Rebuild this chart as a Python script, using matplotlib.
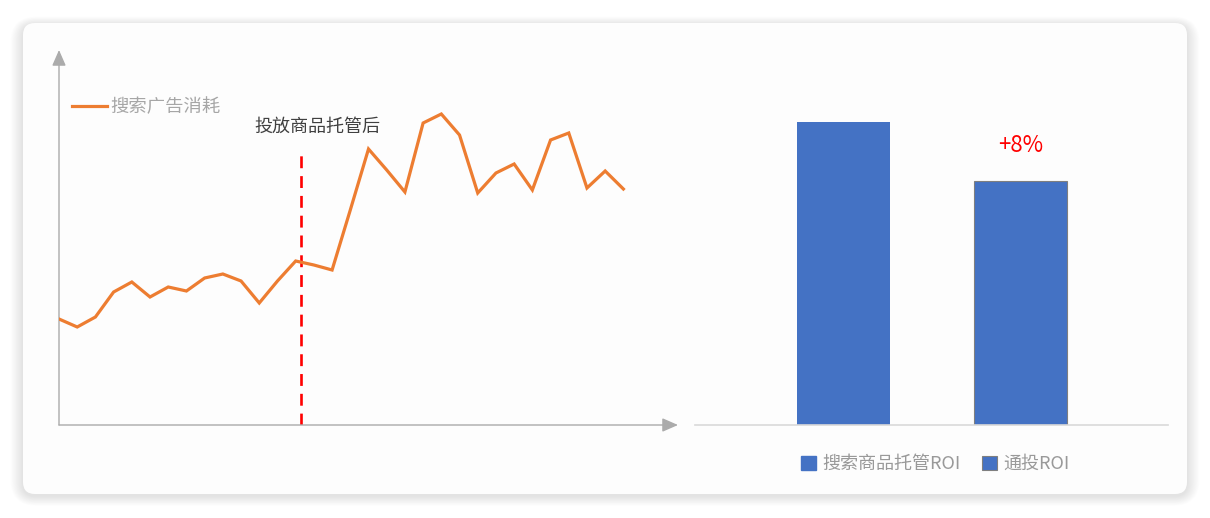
import matplotlib

matplotlib.use("Agg")
import matplotlib.pyplot as plt
import matplotlib.patches as mpatches
import matplotlib.lines as mlines
import numpy as np

plt.rcParams["font.family"] = ["Noto Sans CJK SC", "DejaVu Sans"]

# ---------------------------------------------------------------------------
# Data (y-axis has no scale, units are arbitrary)
# ---------------------------------------------------------------------------
spend = [106, 98, 108, 133, 143, 128, 138, 134, 147, 151, 144, 122, 144, 164,
         160, 155, 215, 276, 255, 233, 302, 311, 290, 232, 252, 261, 235, 285,
         292, 237, 254, 236]
spend_label = "搜索广告消耗"
launch_idx = 13.3
launch_label = "投放商品托管后"

roi_names = ["搜索商品托管ROI", "通投ROI"]
roi_values = [303, 244]
roi_note = "+8%"

ORANGE = "#ED7D31"
BLUE = "#4472C4"
AXIS_GRAY = "#ababab"

W, H = 1210, 518
fig = plt.figure(figsize=(W / 100, H / 100), dpi=100)
fig.patch.set_facecolor("white")


def px_rect(x0, y0, x1, y1):
    # pixel box (top-left origin) -> figure fraction [l, b, w, h]
    return [x0 / W, (H - y1) / H, (x1 - x0) / W, (y1 - y0) / H]


# ---------------------------------------------------------------------------
# Card background with soft shadow
# ---------------------------------------------------------------------------
bg = fig.add_axes([0, 0, 1, 1], zorder=-10)
bg.set_xlim(0, W)
bg.set_ylim(H, 0)
bg.axis("off")
for k in range(14, 0, -1):
    bg.add_patch(
        mpatches.FancyBboxPatch(
            (23 - k * 0.9, 23 - k * 0.6 + 2), 1164 + k * 1.8, 471 + k * 1.3,
            boxstyle=f"round,pad=0,rounding_size={12 + k}",
            fc="#000000", ec="none", alpha=0.006,
        )
    )
bg.add_patch(
    mpatches.FancyBboxPatch(
        (23, 23), 1164, 471, boxstyle="round,pad=0,rounding_size=12",
        fc="#fdfdfd", ec="none",
    )
)

# ---------------------------------------------------------------------------
# Left: spend line
# ---------------------------------------------------------------------------
ax = fig.add_axes(px_rect(59, 50, 678, 425))
ax.set_facecolor("none")
ax.set_xlim(0, 34)
ax.set_ylim(0, 375)
for s in ax.spines.values():
    s.set_visible(False)
ax.set_xticks([])
ax.set_yticks([])

arrow_kw = dict(arrowstyle="-|>,head_length=0.8,head_width=0.35", color=AXIS_GRAY,
                lw=1.0, shrinkA=0, shrinkB=0, mutation_scale=12)
ax.annotate("", xy=(0, 1), xytext=(0, 0), xycoords="axes fraction",
            arrowprops=arrow_kw, annotation_clip=False)
ax.annotate("", xy=(1, 0), xytext=(0, 0), xycoords="axes fraction",
            arrowprops=arrow_kw, annotation_clip=False)

x = np.arange(len(spend))
ax.plot(x, spend, color=ORANGE, lw=2.3, solid_joinstyle="miter", zorder=3)

ax.plot([launch_idx, launch_idx], [0, 270], color="#ff0000", lw=1.9,
        dashes=(4.5, 3), zorder=2)
ax.text(launch_idx + 0.9, 298, launch_label, ha="center", va="center",
        fontsize=13, color="#404040")

leg_handle = mlines.Line2D([], [], color=ORANGE, lw=2.3, label=spend_label)
ax.legend(handles=[leg_handle], loc="upper left", bbox_to_anchor=(-0.005, 0.915),
          frameon=False, fontsize=13.2, labelcolor="#a6a6a6", handlelength=1.9,
          handletextpad=0.15, borderaxespad=0.5)

# ---------------------------------------------------------------------------
# Right: ROI bars
# ---------------------------------------------------------------------------
bx = fig.add_axes(px_rect(695, 50, 1168, 425))
bx.set_facecolor("none")
bx.set_xlim(-0.839, 1.833)
bx.set_ylim(0, 375)
for name, s in bx.spines.items():
    s.set_visible(name == "bottom")
bx.spines["bottom"].set_color("#d9d9d9")
bx.spines["bottom"].set_linewidth(1.2)
bx.set_xticks([])
bx.set_yticks([])

bars = bx.bar([0, 1], roi_values, width=0.53, color=BLUE,
              edgecolor=[BLUE, "#7f7f7f"], linewidth=[0, 0.8], zorder=2)
bx.text(1, roi_values[1] + 35, roi_note, ha="center", va="center",
        fontsize=16, color="#ff0000")

handles = [mpatches.Patch(fc=BLUE, ec=BLUE, label=roi_names[0]),
           mpatches.Patch(fc=BLUE, ec="#7f7f7f", lw=0.8, label=roi_names[1])]
bx.legend(handles=handles, loc="center", bbox_to_anchor=(0.508, -0.104), ncol=2,
          frameon=False, fontsize=13, labelcolor="#999999", handlelength=0.8,
          handleheight=0.8, handletextpad=0.35, columnspacing=1.2)

fig.savefig("out.png", dpi=100, facecolor="white")
